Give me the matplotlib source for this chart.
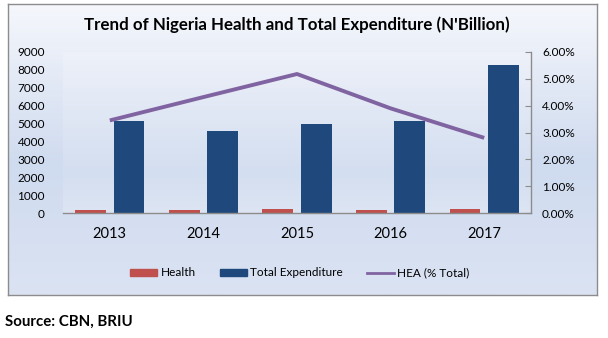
import numpy as np
import matplotlib
matplotlib.use("Agg")
import matplotlib.pyplot as plt
from matplotlib.colors import LinearSegmentedColormap
from matplotlib.lines import Line2D
from matplotlib.patches import Patch
from matplotlib.ticker import FuncFormatter

plt.rcParams['font.family'] = ['Lato', 'DejaVu Sans']

years = ["2013", "2014", "2015", "2016", "2017"]
health = [150, 180, 240, 190, 200]
total_expenditure = [5140, 4580, 4970, 5140, 8270]
hea_pct = [3.45, 4.32, 5.18, 3.90, 2.80]

W, H = 608, 338
fig = plt.figure(figsize=(W / 100, H / 100), dpi=100)
fig.patch.set_facecolor("white")

# chart area with vertical blue gradient
bg = fig.add_axes([8 / W, 1 - 295 / H, 589 / W, 291 / H], zorder=-2)
cmap = LinearSegmentedColormap.from_list(
    "bg", [(0.0, "#f5f7fc"), (0.55, "#cfdbef"), (1.0, "#dbe3f3")])
grad = np.linspace(0, 1, 256).reshape(-1, 1)
bg.imshow(grad, aspect="auto", cmap=cmap, extent=(0, 1, 0, 1), origin="upper")
bg.set_xlim(0, 1)
bg.set_ylim(0, 1)
bg.set_xticks([])
bg.set_yticks([])
for s in bg.spines.values():
    s.set_color("#8c8c8c")
    s.set_linewidth(1.0)

left, right = 63 / W, 531 / W
bottom, top = 1 - 213 / H, 1 - 52 / H
ax = fig.add_axes([left, bottom, right - left, top - bottom])
ax.set_facecolor("none")

# plot area gradient
pcmap = LinearSegmentedColormap.from_list(
    "pa", [(0.0, "#eef1f9"), (0.75, "#d3def0"), (1.0, "#dde5f3")])
ax.imshow(grad, aspect="auto", cmap=pcmap, extent=(-0.5, 4.5, 0, 9000),
          origin="upper", zorder=0)

x = np.arange(len(years))
bw = 0.33
ax.bar(x - 0.205, health, width=bw, color="#c0504d", zorder=2)
ax.bar(x + 0.205, total_expenditure, width=bw, color="#1f497d", zorder=2)
ax.set_xlim(-0.5, 4.5)
ax.set_ylim(0, 9000)
ax.set_yticks(np.arange(0, 9001, 1000))
ax.set_xticks(x)
ax.set_xticklabels(years, fontsize=10.5)
ax.tick_params(axis="x", length=0, pad=10)
ax.tick_params(axis="y", length=0, pad=13, labelsize=8.5)
for k in ["top", "right", "left"]:
    ax.spines[k].set_visible(False)
ax.spines["bottom"].set_color("#8c8c8c")
ax.spines["bottom"].set_linewidth(1.0)
ax.spines["bottom"].set_zorder(3)

ax2 = ax.twinx()
ax2.plot(x, hea_pct, color="#8064a2", linewidth=2.8, zorder=4,
         solid_capstyle="butt")
ax2.set_ylim(0, 6)
ax2.set_yticks(np.arange(0, 6.01, 1))
ax2.yaxis.set_major_formatter(FuncFormatter(lambda v, p: f"{v:.2f}%"))
ax2.tick_params(axis="y", direction="in", length=4, color="#8c8c8c",
                pad=8, labelsize=8.5)
for k in ["top", "left", "bottom"]:
    ax2.spines[k].set_visible(False)
ax2.spines["right"].set_color("#8c8c8c")
ax2.spines["right"].set_linewidth(1.0)

fig.text(0.5 * (75 + 518) / W, 1 - 25 / H,
         "Trend of Nigeria Health and Total Expenditure (N'Billion)",
         ha="center", va="center", fontsize=12.2, fontweight="bold")

handles = [Patch(color="#c0504d"), Patch(color="#1f497d"),
           Line2D([0], [0], color="#8064a2", linewidth=2)]
labels = ["Health", "Total Expenditure", "HEA (% Total)"]
fig.legend(handles, labels, loc="center", ncol=3,
           bbox_to_anchor=(300 / W, 1 - 273 / H), frameon=False,
           fontsize=8.5, handlelength=2.3, handleheight=0.6,
           handletextpad=0.3, columnspacing=2.0)

fig.text(5 / W, 1 - 322 / H, "Source: CBN, BRIU", ha="left", va="center",
         fontsize=10.8, fontweight="bold")

fig.savefig("out.png", dpi=100)
